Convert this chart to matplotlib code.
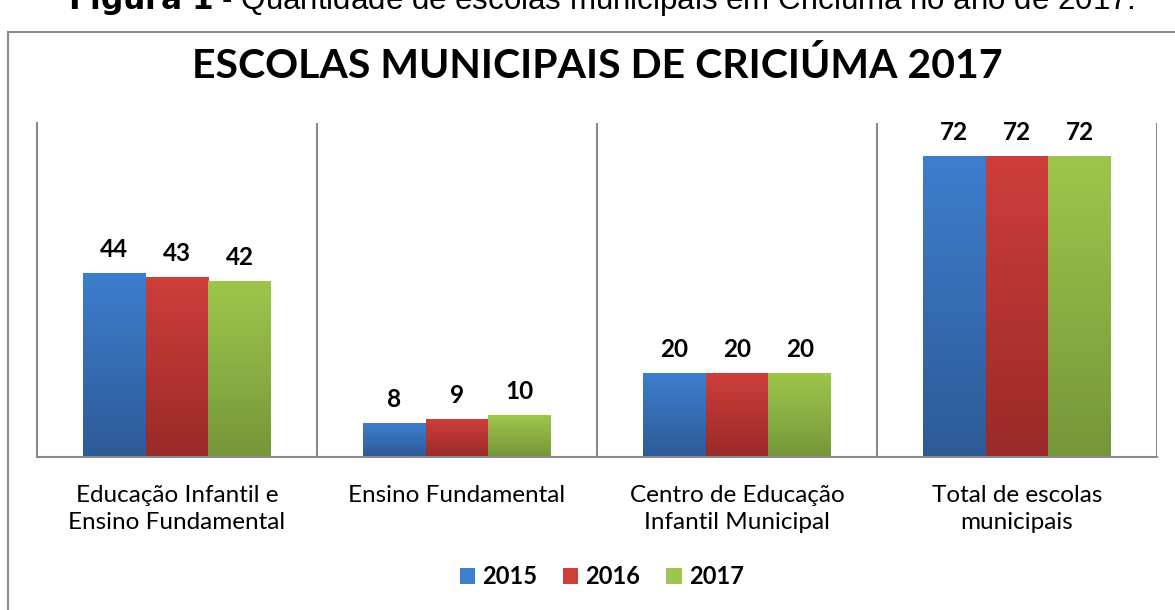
import matplotlib
matplotlib.use('Agg')
import matplotlib.pyplot as plt
from matplotlib.patches import Rectangle, Patch
from matplotlib.colors import LinearSegmentedColormap
import numpy as np

categories = ['Educação Infantil e\nEnsino Fundamental', 'Ensino Fundamental',
              'Centro de Educação\nInfantil Municipal', 'Total de escolas\nmunicipais']
years = ['2015', '2016', '2017']
v2015 = [44, 8, 20, 72]
v2016 = [43, 9, 20, 72]
v2017 = [42, 10, 20, 72]

# top / bottom colour of each gradient
grad = [('#3E7ECE', '#2C5A96'), ('#CE3E3B', '#992A28'), ('#9EC64B', '#76963A')]

plt.rcParams['font.family'] = ['Lato', 'DejaVu Sans']

fig = plt.figure(figsize=(11.75, 6.1), dpi=100)
ax = fig.add_axes([37 / 1175, 1 - 457 / 610, 1120 / 1175, 334 / 610])

# frame of the chart area and the cut caption above it
fig.patches.append(Rectangle((8 / 1175, -0.05), 1.2, 0.05 + (610 - 32) / 610,
                             transform=fig.transFigure, fill=False,
                             edgecolor='#8a8a8a', lw=1.5, zorder=0))
fig.text(0.512, 1.0 - 1 / 610, r'$\bf{Figura\ 1}$ - Quantidade de escolas municipais em Criciúma no ano de 2017.',
         ha='center', va='center', fontsize=22.5, family=['Liberation Sans'])
fig.text(0.508, 1 - 66 / 610, 'ESCOLAS MUNICIPAIS DE CRICIÚMA 2017', ha='center',
         va='center', fontsize=29.5, fontweight='bold')

x = np.arange(len(categories))
w = 0.224
series = [v2015, v2016, v2017]
grd = np.linspace(1, 0, 256).reshape(-1, 1)
for i, vals in enumerate(series):
    bars = ax.bar(x + (i - 1) * w, vals, w, color='none', zorder=2)
    cmap = LinearSegmentedColormap.from_list('g%d' % i, [grad[i][1], grad[i][0]])
    for b, v in zip(bars, vals):
        x0, wd, h = b.get_x(), b.get_width(), b.get_height()
        ax.imshow(grd, extent=(x0, x0 + wd, 0, h), aspect='auto',
                  cmap=cmap, vmin=0, vmax=1, zorder=2)
        ax.text(x0 + wd / 2, h + 3.0, str(v), ha='center', va='bottom',
                fontsize=17.5, fontweight='bold')

ax.set_xlim(-0.5, 3.5)
ax.set_ylim(0, 80)
ax.set_xticks(x)
ax.set_xticklabels(categories, fontsize=17.5, linespacing=1.35)
ax.tick_params(axis='x', length=0, pad=20)
ax.set_yticks([])
for s in ['top', 'right']:
    ax.spines[s].set_visible(False)
for s in ['left', 'bottom']:
    ax.spines[s].set_color('#8a8a8a')
    ax.spines[s].set_linewidth(1.5)
for xb in [0.5, 1.5, 2.5, 3.5]:
    ax.axvline(xb, color='#8a8a8a', lw=1.5, zorder=1)

handles = [Patch(facecolor=grad[i][0], edgecolor='none') for i in range(3)]
fig.legend(handles, years, loc='center', bbox_to_anchor=(0.512, 1 - 577 / 610),
           ncol=3, frameon=False, prop={'weight': 'bold', 'size': 17},
           handlelength=0.65, handleheight=0.65, handletextpad=0.3, columnspacing=1.1)

fig.savefig('out.png', dpi=100)
